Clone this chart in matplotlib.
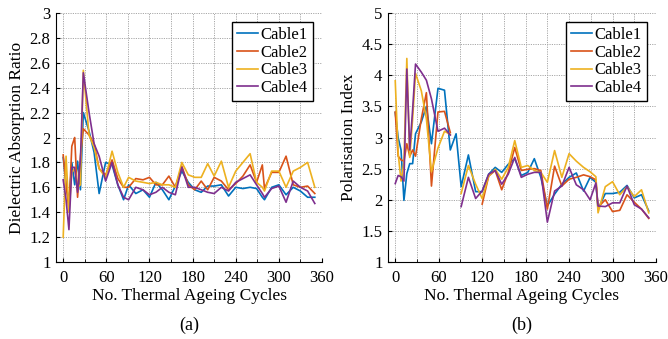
import numpy as np
import matplotlib
matplotlib.use('Agg')
import matplotlib.pyplot as plt
from matplotlib.ticker import MultipleLocator, FormatStrFormatter

plt.rcParams['font.family'] = ['Liberation Serif', 'DejaVu Serif']

# --- data ---
cycles = [0, 4, 8, 12, 16, 20, 24, 28, 36, 43, 50, 59, 68, 76, 84,
          91, 101, 111, 120, 129, 138, 147, 156, 165, 174, 183, 192, 201, 210, 220, 230,
          240, 250, 260, 269, 277, 280, 290, 300, 310, 320, 330, 340, 350]
nan = np.nan

# (a) dielectric absorption ratio
dar_cable1 = [1.84, 1.62, 1.48, 1.80, 1.62, 1.81, 1.58, 2.20, 2.05, 1.88, 1.55, 1.80, 1.78, 1.62, 1.50,
              1.62, 1.55, 1.58, 1.52, 1.64, 1.58, 1.50, 1.61, 1.73, 1.64, 1.58, 1.56, 1.61, 1.61, 1.62, 1.53,
              1.60, 1.59, 1.60, 1.59, 1.52, 1.50, 1.60, 1.62, 1.54, 1.60, 1.57, 1.52, 1.52]
dar_cable2 = [1.86, 1.62, 1.42, 1.93, 2.00, 1.52, 1.85, 2.07, 2.02, 1.95, 1.75, 1.70, 1.82, 1.67, 1.60,
              1.60, 1.67, 1.66, 1.68, 1.62, 1.62, 1.69, 1.60, 1.77, 1.62, 1.58, 1.65, 1.58, 1.68, 1.65, 1.58,
              1.63, 1.69, 1.78, 1.64, 1.78, 1.59, 1.72, 1.72, 1.85, 1.62, 1.60, 1.61, 1.55]
dar_cable3 = [1.20, 1.85, 1.40, 1.72, 1.75, 1.60, 1.62, 2.54, 2.02, 1.92, 1.75, 1.68, 1.89, 1.72, 1.60,
              1.68, 1.65, 1.64, 1.63, 1.64, 1.62, 1.62, 1.60, 1.80, 1.70, 1.68, 1.68, 1.79, 1.69, 1.81, 1.60,
              1.73, 1.80, 1.87, 1.64, 1.60, 1.57, 1.73, 1.73, 1.60, 1.73, 1.76, 1.80, 1.60]
dar_cable4 = [1.66, 1.50, 1.26, 1.76, 1.76, 1.56, 1.82, 2.52, 2.20, 1.95, 1.85, 1.65, 1.80, 1.62, 1.52,
              1.50, 1.60, 1.58, 1.54, 1.56, 1.60, 1.56, 1.54, 1.76, 1.60, 1.60, 1.58, 1.56, 1.55, 1.60, 1.57,
              1.64, 1.67, 1.70, 1.62, 1.55, 1.52, 1.59, 1.61, 1.48, 1.65, 1.60, 1.57, 1.47]

# (b) polarisation index (nan = no measurement)
pi_cable1 = [3.40, 3.00, 2.80, 1.99, 2.42, 2.58, 2.58, 3.06, 3.25, 3.50, 2.90, 3.79, 3.76, 2.80, 3.06,
             2.21, 2.72, 2.13, 2.13, 2.41, 2.52, 2.44, 2.57, 2.66, 2.39, 2.44, 2.66, 2.36, 1.90, 2.09, 2.25,
             2.36, 2.43, 2.14, 2.36, 2.28, 1.85, 2.10, 2.10, 2.12, 2.23, 2.03, 2.08, 1.82]
pi_cable2 = [3.41, 2.70, 2.64, 2.62, 2.90, 2.70, 2.80, 2.70, 3.30, 3.72, 2.22, 3.41, 3.42, 3.08, nan,
             nan, nan, nan, 1.93, 2.38, 2.47, 2.16, 2.44, 2.84, 2.47, 2.49, 2.50, 2.47, 1.85, 2.54, 2.22,
             2.33, 2.36, 2.40, 2.37, 2.32, 1.88, 2.00, 1.81, 1.83, 2.08, 1.96, 1.85, 1.70]
pi_cable3 = [3.91, 2.75, 2.30, 2.60, 4.27, 2.68, 3.30, 4.03, 3.75, 3.30, 2.45, 2.83, 3.10, 3.05, nan,
             2.10, 2.55, 2.25, 2.02, 2.38, 2.49, 2.33, 2.52, 2.95, 2.52, 2.55, 2.47, 2.44, 2.28, 2.79, 2.36,
             2.74, 2.62, 2.52, 2.45, 2.37, 1.79, 2.21, 2.29, 2.08, 2.21, 2.05, 2.16, 1.79]
pi_cable4 = [2.26, 2.39, 2.37, 2.30, 4.10, 2.80, 3.45, 4.18, 4.05, 3.92, 3.62, 3.10, 3.15, 3.04, nan,
             1.89, 2.36, 2.02, 2.14, 2.41, 2.47, 2.25, 2.41, 2.68, 2.36, 2.41, 2.44, 2.44, 1.64, 2.14, 2.22,
             2.52, 2.24, 2.16, 2.00, 2.27, 1.90, 1.89, 1.95, 1.95, 2.22, 1.92, 1.85, 1.71]

labels = ['Cable1', 'Cable2', 'Cable3', 'Cable4']
colors = ['#0072BD', '#D95319', '#EDB120', '#7E2F8E']  # MATLAB default order

fig = plt.figure(figsize=(6.68, 3.39), dpi=100)
ax_a = fig.add_axes([56 / 668, 77 / 339, 266 / 668, 249 / 339])
ax_b = fig.add_axes([388 / 668, 77 / 339, 268 / 668, 249 / 339])


def style_axes(ax, ylim, ystep, ylabel):
    ax.set_xlim(-10, 360)
    ax.set_ylim(*ylim)
    ax.xaxis.set_major_locator(MultipleLocator(60))
    ax.xaxis.set_minor_locator(MultipleLocator(30))
    ax.yaxis.set_major_locator(MultipleLocator(ystep))
    ax.yaxis.set_major_formatter(FormatStrFormatter('%g'))
    ax.grid(True, which='both', color='#a8a8a8', linestyle=(0, (1.2, 1.2)), linewidth=0.7)
    ax.set_axisbelow(True)
    ax.spines['top'].set_visible(False)
    ax.spines['right'].set_visible(False)
    ax.tick_params(which='both', direction='in', length=3, labelsize=12, pad=4)
    ax.tick_params(axis='x', pad=6)
    ax.tick_params(which='minor', length=2)
    ax.set_xlabel('No. Thermal Ageing Cycles', fontsize=12.5, labelpad=1)
    ax.set_ylabel(ylabel, fontsize=12.5, labelpad=3)
    leg = ax.legend(loc='upper right', fontsize=12, frameon=True, fancybox=False,
                    edgecolor='black', framealpha=1, handlelength=1.3, handletextpad=0.15,
                    borderpad=0.3, labelspacing=0.1, borderaxespad=0.55)
    leg.get_frame().set_linewidth(1.0)


for vals, lab, c in zip([dar_cable1, dar_cable2, dar_cable3, dar_cable4], labels, colors):
    ax_a.plot(cycles, vals, color=c, linewidth=1.2, label=lab)
for vals, lab, c in zip([pi_cable1, pi_cable2, pi_cable3, pi_cable4], labels, colors):
    ax_b.plot(cycles, vals, color=c, linewidth=1.2, label=lab)

style_axes(ax_a, (1, 3), 0.2, 'Dielectric Absorption Ratio')
style_axes(ax_b, (1, 5), 0.5, 'Polarisation Index')

fig.text(189 / 668, 1 - 325 / 339, '(a)', ha='center', va='center', fontsize=13)
fig.text(522 / 668, 1 - 325 / 339, '(b)', ha='center', va='center', fontsize=13)

fig.savefig('out.png', dpi=100)
